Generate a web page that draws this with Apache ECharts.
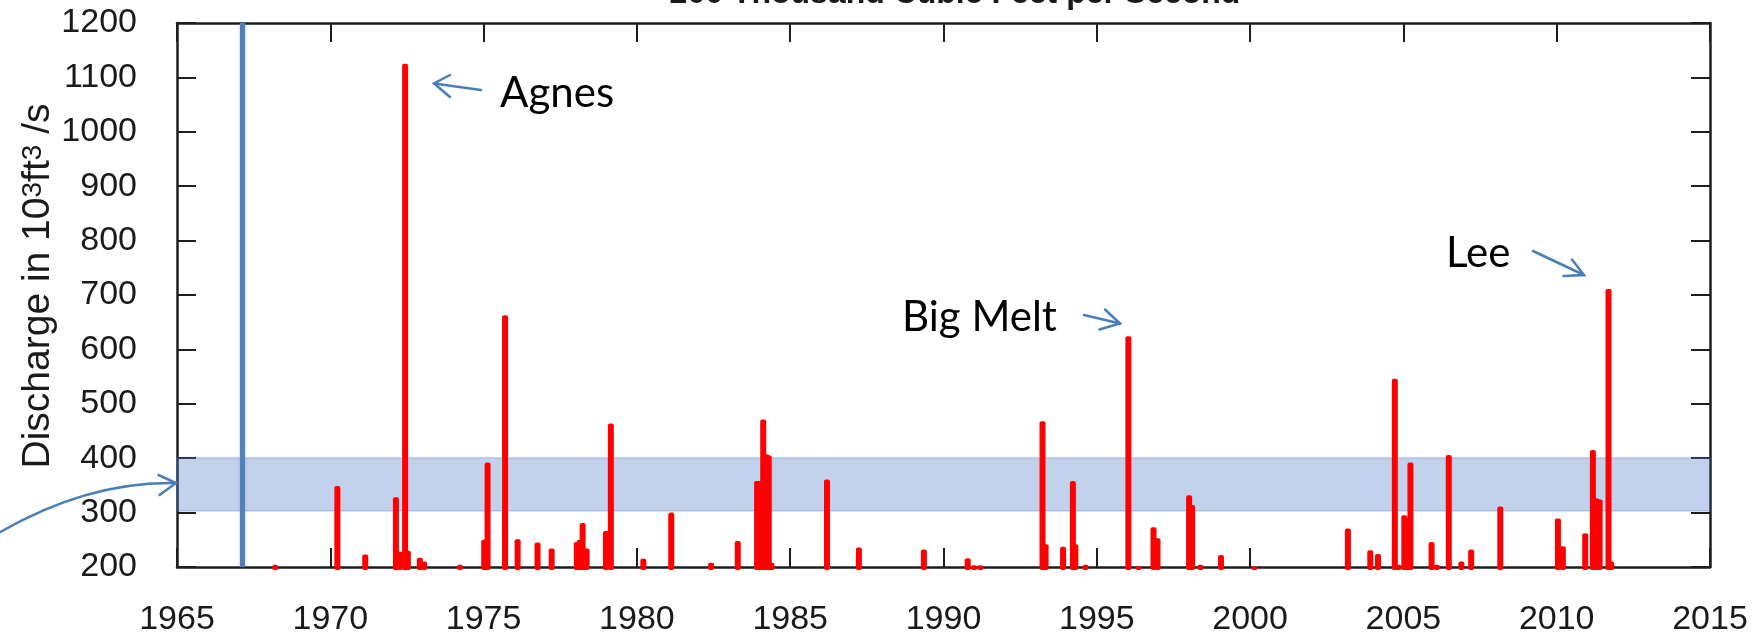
<!DOCTYPE html>
<html>
<head>
<meta charset="utf-8">
<title>Susquehanna River Discharge Peaks</title>
<script src="https://cdn.jsdelivr.net/npm/echarts@6/dist/echarts.min.js"></script>
<style>
  html, body { margin: 0; padding: 0; background: #ffffff; }
  #chart { width: 1762px; height: 638px; }
</style>
</head>
<body>
<div id="chart"></div>
<script>
// Flow peaks above 200 thousand cubic feet per second (decimal year, 10^3 ft^3/s)
const peakYears = [
  1968.20, 1970.23, 1971.14, 1972.14, 1972.27, 1972.44, 1972.53, 1972.92, 1973.06,
  1974.23, 1975.02, 1975.13, 1975.70, 1976.11, 1976.76, 1977.22, 1978.04, 1978.14,
  1978.23, 1978.36, 1978.99, 1979.15, 1980.21, 1981.12, 1982.42, 1983.29, 1983.92,
  1983.98, 1984.04, 1984.12, 1984.18, 1984.24, 1984.30, 1984.39, 1986.20, 1987.24,
  1989.36, 1990.79, 1991.00, 1991.20, 1993.23, 1993.33, 1993.90, 1994.22, 1994.30,
  1994.63, 1996.03, 1996.36, 1996.85, 1996.98, 1998.01, 1998.11, 1998.38, 1999.05,
  2000.14, 2003.19, 2003.92, 2004.17, 2004.72, 2004.84, 2005.03, 2005.13, 2005.23,
  2005.92, 2006.09, 2006.48, 2006.89, 2007.21, 2008.16, 2010.04, 2010.20, 2010.93,
  2011.18, 2011.25, 2011.31, 2011.40, 2011.69, 2011.78
];
const peakDischarge = [
  204, 349, 223, 328, 228, 1125, 230, 217, 210,
  204, 250, 392, 663, 251, 245, 234, 246, 250,
  281, 234, 266, 464, 215, 300, 208, 248, 358,
  358, 358, 471, 407, 407, 405, 208, 361, 236,
  232, 216, 203, 203, 468, 242, 237, 358, 242,
  204, 624, 202, 273, 253, 332, 314, 204, 222,
  201, 271, 231, 224, 546, 204, 295, 290, 392,
  246, 204, 406, 210, 232, 311, 289, 238, 262,
  415, 326, 326, 324, 711, 210
];

// Shaded discharge range and the vertical marker year
const bandRange = [303, 401];
const markerYear = 1967.13;

// Axis ranges
const yearRange = [1965, 2015];
const yearStep = 5;
const dischargeRange = [200, 1200];
const dischargeStep = 100;

// Named storms
const stormNames = ['Agnes', 'Big Melt', 'Lee'];
const chartTitle = '200 Thousand Cubic Feet per Second';
const yAxisTitle = '{n|Discharge in 10}{s|3}{n|ft}{s|3}{n| /s}';

const peakData = peakYears.map((y, i) => [y, peakDischarge[i]]);

const chart = echarts.init(document.getElementById('chart'), null, { renderer: 'canvas' });

const frameColor = '#1e1e1e';
const labelFont = "'Liberation Sans Narrow', 'Liberation Sans', Arial, sans-serif";
const nameFont = "'Liberation Sans', Arial, sans-serif";
const arrowColor = '#4a7ebb';

function axisCommon(showLabels, isX) {
  return {
    type: 'value',
    min: isX ? yearRange[0] : dischargeRange[0],
    max: isX ? yearRange[1] : dischargeRange[1],
    interval: isX ? yearStep : dischargeStep,
    axisLine: { show: true, onZero: false, lineStyle: { color: frameColor, width: 2.5 } },
    axisTick: { show: true, inside: true, length: 19, lineStyle: { color: frameColor, width: 2 } },
    splitLine: { show: false },
    axisLabel: {
      show: showLabels,
      color: '#1a1a1a',
      fontFamily: labelFont,
      fontSize: 34,
      margin: isX ? 36 : 40,
      formatter: (v) => String(v)
    }
  };
}

function arrow(x1, y1, x2, y2, h1, h2) {
  return [
    { type: 'line', shape: { x1, y1, x2, y2 },
      style: { stroke: arrowColor, lineWidth: 2.5, lineCap: 'round' }, z: 10 },
    { type: 'polyline', shape: { points: [h1, [x2, y2], h2] },
      style: { stroke: arrowColor, fill: null, lineWidth: 2.5, lineCap: 'round', lineJoin: 'miter' }, z: 10 }
  ];
}

function note(text, x, y) {
  return {
    type: 'text', x, y, z: 10,
    style: {
      text, fill: '#000000',
      font: "42px Lato, 'Open Sans', sans-serif",
      align: 'left', verticalAlign: 'middle'
    }
  };
}

const option = {
  animation: false,
  backgroundColor: '#ffffff',
  grid: { left: 177, right: 52, top: 23, bottom: 71, containLabel: false },
  xAxis: [
    Object.assign(axisCommon(true, true), { position: 'bottom' }),
    Object.assign(axisCommon(false, true), { position: 'top' })
  ],
  yAxis: [
    Object.assign(axisCommon(true, false), {
      position: 'left',
      name: yAxisTitle,
      nameLocation: 'middle',
      nameGap: 119,
      nameRotate: 90,
      nameMoveOverlap: false,
      nameTextStyle: {
        color: '#1a1a1a',
        padding: [0, 0, 0, 18],
        rich: {
          n: { fontFamily: nameFont, fontSize: 39, color: '#1a1a1a', verticalAlign: 'bottom' },
          s: { fontFamily: nameFont, fontSize: 28, color: '#1a1a1a', verticalAlign: 'top' }
        }
      }
    }),
    Object.assign(axisCommon(false, false), { position: 'right' })
  ],
  series: [
    {
      name: 'Peak discharge',
      type: 'custom',
      xAxisIndex: 0,
      yAxisIndex: 0,
      z: 2,
      data: peakData,
      renderItem(params, api) {
        const top = api.coord([api.value(0), api.value(1)]);
        const base = api.coord([api.value(0), dischargeRange[0]]);
        return {
          type: 'rect',
          shape: { x: top[0] - 3, y: top[1], width: 6, height: base[1] + 3 - top[1], r: 2 },
          style: { fill: '#ff0000' }
        };
      }
    },
    {
      name: 'Reference',
      type: 'line',
      xAxisIndex: 0,
      yAxisIndex: 0,
      z: 5,
      data: [],
      markLine: {
        silent: true,
        symbol: ['none', 'none'],
        label: { show: false },
        lineStyle: { color: '#4f81bd', width: 5, type: 'solid', shadowColor: 'rgba(79,129,189,0.5)', shadowBlur: 3 },
        data: [{ xAxis: markerYear }]
      },
      markArea: {
        silent: true,
        itemStyle: {
          color: 'rgba(68,114,196,0.32)',
          borderColor: 'rgba(68,114,196,0.22)',
          borderWidth: 2
        },
        data: [[{ yAxis: bandRange[0] }, { yAxis: bandRange[1] }]]
      }
    }
  ],
  graphic: [
    {
      type: 'text', x: 955, y: -6, z: 10,
      style: {
        text: chartTitle, fill: '#1a1a1a',
        font: "bold 32px 'Liberation Sans', Arial, sans-serif",
        align: 'center', verticalAlign: 'middle'
      }
    },
    note(stormNames[0], 500, 93),
    note(stormNames[1], 902, 317),
    note(stormNames[2], 1446, 253),
    ...arrow(481, 90, 434, 83.5, [450, 75], [450, 97]),
    ...arrow(1084, 315, 1120, 323.5, [1105, 309.5], [1099.5, 329.5]),
    ...arrow(1533, 251, 1584, 275, [1572, 259.5], [1563.5, 276]),
    {
      type: 'bezierCurve', z: 10,
      shape: { x1: -5, y1: 535, cpx1: 86.5, cpy1: 481, x2: 176, y2: 483 },
      style: { stroke: arrowColor, fill: null, lineWidth: 2.5 }
    },
    {
      type: 'polyline', z: 10,
      shape: { points: [[158.5, 475], [176, 483], [159.5, 495]] },
      style: { stroke: arrowColor, fill: null, lineWidth: 2.5, lineCap: 'round' }
    }
  ]
};

chart.setOption(option);
</script>
</body>
</html>
